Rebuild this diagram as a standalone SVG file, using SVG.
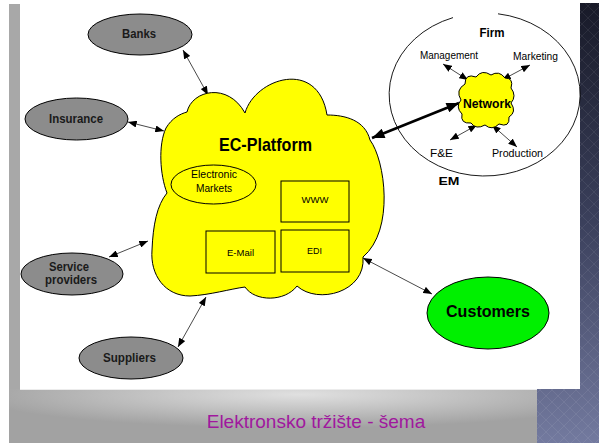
<svg xmlns="http://www.w3.org/2000/svg" width="599" height="443" viewBox="0 0 599 443">
  <defs>
    <linearGradient id="navy" x1="0" y1="0" x2="0" y2="1">
      <stop offset="0" stop-color="#181a28"/>
      <stop offset="0.5" stop-color="#3b405c"/>
      <stop offset="1" stop-color="#737a9f"/>
    </linearGradient>
    <pattern id="diamonds" width="12" height="12" patternUnits="userSpaceOnUse">
      <path d="M6 0 L12 6 L6 12 L0 6 Z" fill="none" stroke="#ffffff" stroke-opacity="0.07"/>
    </pattern>
    <radialGradient id="silver" cx="0.55" cy="0.1" r="0.62">
      <stop offset="0" stop-color="#e0e0e0"/>
      <stop offset="1" stop-color="#a2a2a2"/>
    </radialGradient>
    <marker id="tip" viewBox="0 0 10 8" refX="10" refY="4" markerWidth="9" markerHeight="7" markerUnits="userSpaceOnUse" orient="auto-start-reverse">
      <path d="M0,0 L10,4 L0,8 Z" fill="#000"/>
    </marker>
    <marker id="tipBig" viewBox="0 0 10 8" refX="10" refY="4" markerWidth="13" markerHeight="10" markerUnits="userSpaceOnUse" orient="auto-start-reverse">
      <path d="M0,0 L10,4 L0,8 Z" fill="#000"/>
    </marker>
    <style>
      .lbl { font-family: "Liberation Sans", Arial, sans-serif; fill: #000; text-anchor: middle; }
      .bold { font-weight: bold; }
      .party { fill: #8c8c8c; stroke: #000; stroke-width: 1; }
      .party-lbl { font-family: "Liberation Sans", Arial, sans-serif; font-weight: bold; font-size: 12px; fill: #1a1a1a; text-anchor: middle; }
      .box { fill: #ffff00; stroke: #000; stroke-width: 1; }
      .link { stroke: #4a4a4a; stroke-width: 1; fill: none; marker-start: url(#tip); marker-end: url(#tip); }
      .link-thick { stroke: #000; stroke-width: 2.6; fill: none; marker-start: url(#tipBig); marker-end: url(#tipBig); }
    </style>
  </defs>

  <!-- page background and frame -->
  <rect x="0" y="0" width="599" height="443" fill="#ffffff"/>
  <rect x="537" y="3" width="62" height="440" fill="url(#navy)"/>
  <rect x="537" y="3" width="62" height="440" fill="url(#diamonds)"/>
  <rect x="9" y="4" width="11" height="439" fill="#a8a8a8"/>
  <rect x="20" y="3" width="560" height="386" fill="#ffffff"/>
  <rect x="9" y="389" width="528" height="54" fill="url(#silver)"/>
  <line x1="20" y1="389.5" x2="537" y2="389.5" stroke="#ececec" stroke-width="1"/>
  <text x="316" y="428" font-family="'Liberation Sans', Arial, sans-serif" font-size="19" fill="#a0189e" text-anchor="middle">Elektronsko tržište - šema</text>

  <!-- firm boundary -->
  <g id="firm">
    <path d="M498,13.8 A95.5,81.5 0 1 1 453,17.6" fill="none" stroke="#000" stroke-width="0.9"/>
    <text class="lbl bold" x="492" y="37" font-size="12" textLength="25" lengthAdjust="spacingAndGlyphs">Firm</text>
    <text class="lbl bold" x="449" y="185" font-size="11" textLength="21" lengthAdjust="spacingAndGlyphs">EM</text>
  </g>

  <g id="firm-units">
    <text class="lbl" x="449" y="59" font-size="10" textLength="58" lengthAdjust="spacingAndGlyphs">Management</text>
    <text class="lbl" x="535.5" y="60" font-size="10" textLength="45" lengthAdjust="spacingAndGlyphs">Marketing</text>
    <text class="lbl" x="441.5" y="157" font-size="10.5" textLength="23" lengthAdjust="spacingAndGlyphs">F&amp;E</text>
    <text class="lbl" x="517.5" y="157" font-size="10.5" textLength="51" lengthAdjust="spacingAndGlyphs">Production</text>
  </g>

  <!-- connectors -->
  <g id="connectors">
    <line class="link" x1="183" y1="50" x2="208" y2="95"/>
    <line class="link" x1="128" y1="122" x2="164" y2="131"/>
    <line class="link" x1="109" y1="257" x2="148" y2="241"/>
    <line class="link" x1="178" y1="347" x2="206" y2="297"/>
    <line class="link" x1="363" y1="258" x2="432" y2="294"/>
    <line class="link-thick" x1="372" y1="138" x2="459" y2="103"/>
    <line class="link" x1="443" y1="64" x2="468" y2="80"/>
    <line class="link" x1="530" y1="65" x2="502" y2="80"/>
    <line class="link" x1="450" y1="140" x2="477" y2="125"/>
    <line class="link" x1="492" y1="125" x2="517" y2="147"/>
  </g>

  <!-- external parties -->
  <g id="banks">
    <ellipse class="party" cx="140" cy="34.5" rx="52" ry="20.5"/>
    <text class="party-lbl" x="139" y="38" textLength="34" lengthAdjust="spacingAndGlyphs">Banks</text>
  </g>
  <g id="insurance">
    <ellipse class="party" cx="76.5" cy="119" rx="51.5" ry="21"/>
    <text class="party-lbl" x="76" y="122.5" textLength="54" lengthAdjust="spacingAndGlyphs">Insurance</text>
  </g>
  <g id="service-providers">
    <ellipse class="party" cx="72" cy="274" rx="51" ry="21"/>
    <text class="party-lbl" x="69" y="270.5" textLength="40" lengthAdjust="spacingAndGlyphs">Service</text>
    <text class="party-lbl" x="71" y="284" textLength="52" lengthAdjust="spacingAndGlyphs">providers</text>
  </g>
  <g id="suppliers">
    <ellipse class="party" cx="131" cy="358" rx="52" ry="21"/>
    <text class="party-lbl" x="129.5" y="361.5" textLength="53" lengthAdjust="spacingAndGlyphs">Suppliers</text>
  </g>
  <g id="customers">
    <ellipse cx="488" cy="313" rx="61" ry="36" fill="#00f000" stroke="#000" stroke-width="1"/>
    <text class="lbl bold" x="488" y="317" font-size="17" textLength="84" lengthAdjust="spacingAndGlyphs">Customers</text>
  </g>

  <!-- internal network of the firm -->
  <g id="network">
    <path d="M465,84 Q465,73 476,77 Q482,69 491,75 Q499,70 505,78 Q514,78 511,88 Q517,96 511,103 Q517,112 509,117 Q510,128 499,124 Q492,131 485,125 Q476,130 471,123 Q460,124 462,114 Q455,107 461,100 Q455,90 465,84 Z" fill="#ffff00" stroke="#000" stroke-width="1"/>
    <text class="lbl bold" x="487" y="108" font-size="13" textLength="48" lengthAdjust="spacingAndGlyphs">Network</text>
  </g>

  <!-- EC platform cloud -->
  <g id="ec-platform">
    <path d="M167,193 C160,175 158,145 166,128 C172,118 180,114 187,112 C192,90 228,82 245,113 C255,78 318,58 327,115 C345,115 365,120 370,140 C385,160 395,230 363,257 C366,292 318,305 297,286 C285,302 255,302 245,287 C230,289 210,295 190,296 C165,296 150,275 152,250 C153,225 157,205 167,193 Z" fill="#ffff00" stroke="#000" stroke-width="1"/>
    <text class="lbl bold" x="265.5" y="151" font-size="19" textLength="93" lengthAdjust="spacingAndGlyphs">EC-Platform</text>
  </g>
  <g id="electronic-markets">
    <ellipse class="box" cx="213.5" cy="184.5" rx="42.5" ry="19.5"/>
    <text class="lbl" x="214" y="178" font-size="10" textLength="46" lengthAdjust="spacingAndGlyphs">Electronic</text>
    <text class="lbl" x="214" y="192" font-size="10" textLength="36" lengthAdjust="spacingAndGlyphs">Markets</text>
  </g>
  <g id="www">
    <rect class="box" x="281" y="181" width="68" height="41"/>
    <text class="lbl" x="315" y="203" font-size="9" textLength="27" lengthAdjust="spacingAndGlyphs">WWW</text>
  </g>
  <g id="e-mail">
    <rect class="box" x="206" y="231" width="69" height="42"/>
    <text class="lbl" x="240.5" y="256" font-size="9.5" textLength="27" lengthAdjust="spacingAndGlyphs">E-Mail</text>
  </g>
  <g id="edi">
    <rect class="box" x="281" y="230" width="68" height="42"/>
    <text class="lbl" x="314.5" y="254" font-size="9.5" textLength="15" lengthAdjust="spacingAndGlyphs">EDI</text>
  </g>
</svg>
